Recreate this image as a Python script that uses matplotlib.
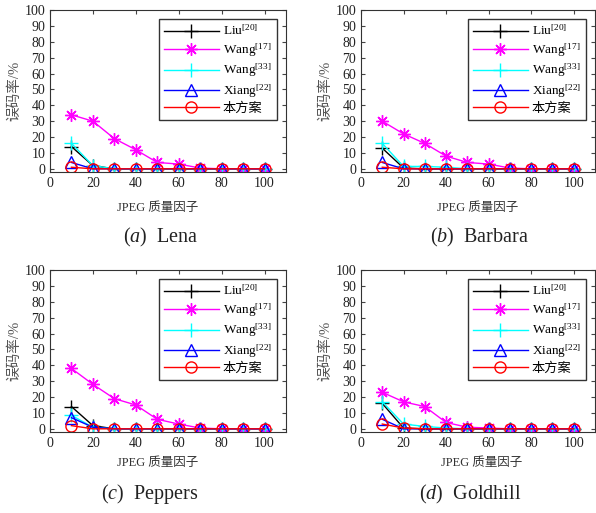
import numpy as np
import matplotlib
matplotlib.use("Agg")
import matplotlib.pyplot as plt

plt.rcParams['font.family'] = ['Liberation Serif', 'Noto Sans CJK SC']
plt.rcParams['mathtext.fontset'] = 'custom'
plt.rcParams['mathtext.rm'] = 'Liberation Serif'
plt.rcParams['mathtext.it'] = 'Liberation Serif:italic'

# JPEG quality factors
quality = [10, 20, 30, 40, 50, 60, 70, 80, 90, 100]

methods = ['Liu$^{[20]}$', 'Wang$^{[17]}$', 'Wang$^{[33]}$', 'Xiang$^{[22]}$', '本方案']

# error rates (%) per image, one list per method in the order above
lena = [
    [14, 2, 0, 0, 0, 0, 0, 0, 0, 0],
    [34, 30, 19, 12, 4, 3, 0.5, 0, 0, 0],
    [16, 2, 0, 0, 0, 0, 0, 0, 0, 0],
    [4, 0, 0, 0, 0, 0, 0, 0, 0, 0],
    [1, 0, 0, 0, 0, 0, 0, 0, 0, 0],
]
barbara = [
    [13, 0.5, 0, 0, 0, 0, 0, 0, 0, 0],
    [30, 22, 16, 8, 4, 3, 0.5, 0, 0, 0],
    [16, 1.5, 1.5, 1, 0, 0, 0, 0, 0, 0],
    [4, 0, 0, 0, 0, 0, 0, 0, 0, 0],
    [1, 0, 0, 0, 0, 0, 0, 0, 0, 0],
]
peppers = [
    [14, 2, 0, 0, 0, 0, 0, 0, 0, 0],
    [38, 28, 19, 15, 6, 3, 0.5, 0, 0, 0],
    [8.5, 1, 0, 0, 0, 0, 0, 0, 0, 0],
    [7, 1, 0, 0, 0, 0, 0, 0, 0, 0],
    [2, 0, 0, 0, 0, 0, 0, 0, 0, 0],
]
goldhill = [
    [16, 0.5, 0, 0, 0, 0, 0, 0, 0, 0],
    [23, 17, 14, 4, 1, 0.5, 0, 0, 0, 0],
    [17, 3, 1.5, 0.5, 0, 0, 0, 0, 0, 0],
    [6, 0, 0, 0, 0, 0, 0, 0, 0, 0],
    [3, 0.5, 0, 0, 0, 0, 0, 0, 0, 0],
]
captions = ['(${\\it a}$)  Lena', '(${\\it b}$)  Barbara',
            '(${\\it c}$)  Peppers', '(${\\it d}$)  Goldhill']

styles = [
    dict(color='black', marker='+', ms=10, mfc='none'),
    dict(color='magenta', marker=(8, 2, 0), ms=9, mfc='none'),
    dict(color='cyan', marker='+', ms=10, mfc='none'),
    dict(color='blue', marker='^', ms=8, mfc='none'),
    dict(color='red', marker='o', ms=8, mfc='none'),
]

W, H = 596, 513
fig = plt.figure(figsize=(W / 100, H / 100), dpi=100)

# axes boxes in pixels: left, top, right, bottom
boxes = [(50, 10, 286, 172), (361, 10, 595, 172),
         (50, 270, 286, 432), (361, 270, 595, 432)]
label_pos = [(158, 208), (478, 208), (158, 463), (482, 463)]
caption_pos = [(161, 237), (479, 237), (150, 494), (470, 494)]

for data, box, cap, lp, cp in zip([lena, barbara, peppers, goldhill], boxes,
                                  captions, label_pos, caption_pos):
    l, t, r, b = box
    ax = fig.add_axes([l / W, 1 - b / H, (r - l) / W, (b - t) / H])
    for vals, name, st in zip(data, methods, styles):
        ax.plot(quality, vals, lw=1, mew=1, label=name, **st)
    ax.set_xlim(0, 110)
    ax.set_ylim(-2, 100)
    ax.set_xticks(range(0, 101, 20))
    ax.set_yticks(range(0, 101, 10))
    ax.tick_params(direction='in', top=True, right=True, length=3,
                   labelsize=10, labelcolor='#222222', colors='#444444')
    for s in ax.spines.values():
        s.set_color('#333333')
        s.set_linewidth(0.8)
    ax.set_ylabel('误码率/%', fontsize=10.5, color='#555555', labelpad=2)
    leg = ax.legend(loc='upper right', fontsize=9.5, handlelength=4.2,
                    handletextpad=0.3, labelspacing=0.22, borderaxespad=0.7,
                    borderpad=0.35, fancybox=False, framealpha=1,
                    edgecolor='#333333')
    leg.get_frame().set_linewidth(1)
    fig.text(lp[0] / W, 1 - lp[1] / H, 'JPEG 质量因子', fontsize=9,
             ha='center', va='center', color='#333333')
    fig.text(cp[0] / W, 1 - cp[1] / H, cap, fontsize=14.5,
             ha='center', va='center', color='#222222')

fig.savefig('out.png', dpi=100)
